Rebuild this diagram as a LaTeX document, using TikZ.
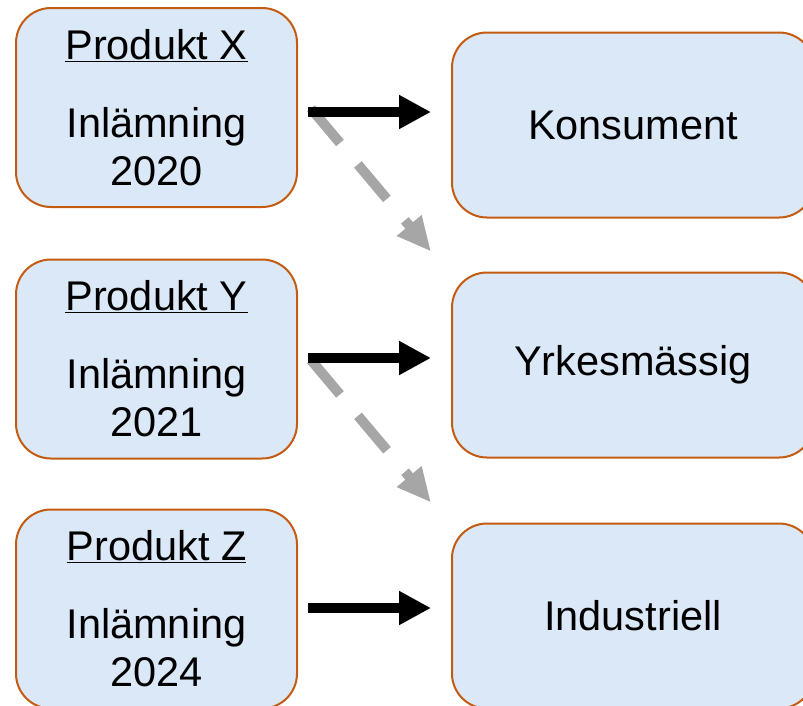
\documentclass[tikz,border=0pt]{standalone}
\usepackage{fontspec}
\setmainfont{Liberation Sans}
\usetikzlibrary{arrows.meta,calc}
\definecolor{boxfill}{HTML}{DAE8F7}
\definecolor{boxline}{HTML}{C55A11}
\definecolor{dashgrey}{HTML}{A6A6A6}
\tikzset{
  produkt/.style={draw=boxline,fill=boxfill,line width=2pt,rounded corners=35pt,
    minimum width=281pt,minimum height=199pt,align=center,
    font=\fontsize{41.5}{48}\selectfont},
  segment/.style={produkt,minimum width=362pt,minimum height=185pt},
  fatarrow/.style={line width=10pt,-{Triangle[length=32pt,width=32pt]}},
  greyarrow/.style={dashgrey,line width=10pt,dash pattern=on 45pt off 28pt,
    -{Triangle[length=34pt,width=30pt]}}
}
\begin{document}
\begin{tikzpicture}[x=1pt,y=-1pt]
        \useasboundingbox (0,0) rectangle (803,705);
        \clip (0,0) rectangle (803,705);
        % products
        \node[produkt] (X) at (156.5,107.5) {\underline{Produkt X}\\[30pt]Inlämning\\2020};
        \node[produkt] (Y) at (156.5,359) {\underline{Produkt Y}\\[30pt]Inlämning\\2021};
        \node[produkt] (Z) at (156.5,609) {\underline{Produkt Z}\\[30pt]Inlämning\\2024};
        % segments
        \node[segment] (K) at (633,125) {Konsument};
        \node[segment] (Yr) at (633,365) {Yrkesmässig};
        \node[segment] (I) at (633,616) {Industriell};
        % dashed arrows
        \draw[greyarrow] ($(X.east)+(13,1)$) -- ($(K.south west)+(-20,33)$);
        \draw[greyarrow] ($(Y.east)+(13,1)$) -- ($(Yr.south west)+(-20,44)$);
        % solid arrows
        \draw[fatarrow] ($(X.east)+(10,4.5)$) -- ($(X.east -| K.west)+(-20,4.5)$);
        \draw[fatarrow] ($(Y.east)+(10,-1)$) -- ($(Y.east -| Yr.west)+(-20,-1)$);
        \draw[fatarrow] ($(Z.east)+(10,-1)$) -- ($(Z.east -| I.west)+(-20,-1)$);
\end{tikzpicture}
\end{document}
